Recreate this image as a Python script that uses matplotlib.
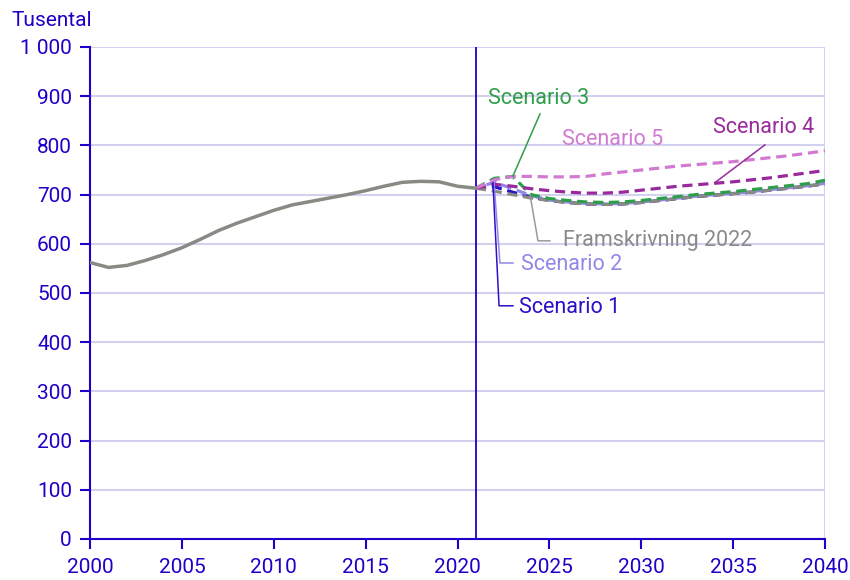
import matplotlib
matplotlib.use("Agg")
import matplotlib.pyplot as plt
from matplotlib.ticker import FuncFormatter, MultipleLocator

plt.rcParams['font.family'] = ['Roboto', 'DejaVu Sans']

hist_years = list(range(2000, 2022))
hist_vals = [562, 552, 556, 566, 578, 592, 609, 627, 642, 655, 668, 679,
             686, 693, 700, 708, 717, 725, 727, 726, 717, 713]

proj_years = list(range(2021, 2041))
framskr_2022 = [713, 707, 700, 693, 688, 684, 681, 680, 681, 684, 688,
                692, 696, 699, 702, 705, 709, 713, 717, 722]
scenario1 = [713, 716, 705, 695, 688, 684, 681, 680, 681, 684, 688,
             692, 696, 699, 702, 705, 709, 713, 717, 722]
scenario2 = [713, 725, 712, 698, 689, 685, 682, 681, 682, 685, 689,
             693, 697, 700, 703, 706, 710, 714, 718, 723]
scenario3 = [713, 733, 737, 700, 692, 688, 685, 684, 685, 688, 692,
             696, 700, 703, 706, 710, 714, 718, 722, 729]
scenario4 = [713, 721, 717, 712, 708, 705, 703, 703, 705, 709, 713,
             717, 720, 723, 726, 730, 734, 739, 744, 749]
scenario5 = [713, 730, 737, 737, 736, 736, 737, 742, 746, 750, 754,
             758, 761, 764, 767, 771, 775, 779, 784, 789]

labels = ["Scenario 1", "Scenario 2", "Framskrivning 2022",
          "Scenario 3", "Scenario 4", "Scenario 5"]

DARK = "#1f00c8"
GRID = "#d2d2f0"
GRAY = "#8a8a84"
C_S1 = "#2a10c8"
C_S2 = "#9088e8"
C_S3 = "#2e9e48"
C_S4 = "#982a9c"
C_S5 = "#d27ad2"

fig = plt.figure(figsize=(8.5, 5.8), dpi=100)
ax = fig.add_axes([90/850, 41/580, 735/850, 492/580])

ax.set_xlim(2000, 2040)
ax.set_ylim(0, 1000)
ax.yaxis.set_major_locator(MultipleLocator(100))
ax.xaxis.set_major_locator(MultipleLocator(5))
ax.yaxis.set_major_formatter(FuncFormatter(lambda v, p: f"{int(v):,}".replace(",", " ")))

ax.grid(axis='y', color=GRID, lw=1.5, zorder=0)
ax.axvline(2040, color=GRID, lw=1.5, zorder=0)
for s in ['top', 'right']:
    ax.spines[s].set_visible(False)
for s in ['left', 'bottom']:
    ax.spines[s].set_color(DARK)
    ax.spines[s].set_linewidth(1.5)
ax.tick_params(axis='both', colors=DARK, labelcolor=DARK, labelsize=15,
               length=7, width=1.5, direction='out')
ax.tick_params(axis='x', pad=7)
ax.tick_params(axis='y', pad=6)

ax.axvline(2021, color=DARK, lw=1.3, zorder=2)

dash = (0, (3.2, 1.8))
lw = 2.3
ax.plot(proj_years, scenario1, color=C_S1, lw=lw, ls=dash, zorder=3)
ax.plot(proj_years, scenario2, color=C_S2, lw=lw, ls=(1.5, (3.2, 1.8)), zorder=3)
ax.plot(proj_years, framskr_2022, color=GRAY, lw=lw, ls=dash, zorder=4)
ax.plot(proj_years, scenario3, color=C_S3, lw=lw, ls=dash, zorder=5)
ax.plot(proj_years, scenario4, color=C_S4, lw=lw, ls=dash, zorder=5)
ax.plot(proj_years, scenario5, color=C_S5, lw=lw, ls=dash, zorder=5)
ax.plot(hist_years, hist_vals, color=GRAY, lw=2.5, zorder=6, solid_capstyle='round')

# annotations: (label, text pos, leader polyline, color)
ann = [
    (labels[3], (2021.66, 896), [(2024.49, 864), (2023.02, 738)], C_S3),
    (labels[5], (2025.69, 811), None, C_S5),
    (labels[4], (2033.9, 837), [(2036.73, 801), (2034.0, 724)], C_S4),
    (labels[2], (2025.74, 606), [(2025.03, 606), (2024.38, 606), (2023.95, 699)], "#999999"),
    (labels[1], (2023.46, 557), [(2023.02, 561), (2022.31, 561), (2021.99, 724)], C_S2),
    (labels[0], (2023.35, 470), [(2023.02, 474), (2022.26, 474), (2021.93, 724)], C_S1),
]
for text, pos, line, col in ann:
    tcol = "#8a8a8a" if text == labels[2] else col
    ax.text(pos[0], pos[1], text, color=tcol, fontsize=15.5, ha='left', va='center', zorder=7)
    if line:
        xs = [p[0] for p in line]
        ys = [p[1] for p in line]
        ax.plot(xs, ys, color=col, lw=1.1, zorder=7)

fig.text(12/850, 1 - 20/580, "Tusental", color=DARK, fontsize=15, ha='left', va='center')

fig.savefig("out.png", dpi=100)
